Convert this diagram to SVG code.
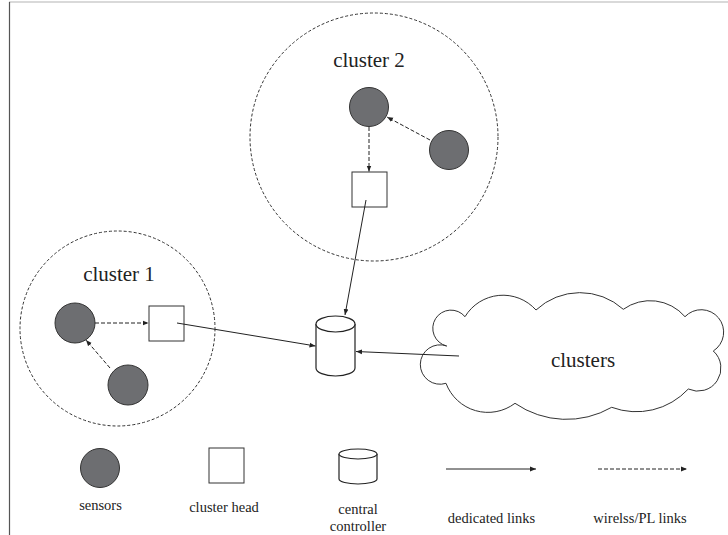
<svg xmlns="http://www.w3.org/2000/svg" width="728" height="535" viewBox="0 0 728 535">
<defs>
<marker id="ah" viewBox="0 0 10 10" refX="10" refY="5" markerWidth="6" markerHeight="6" markerUnits="userSpaceOnUse" orient="auto">
<path d="M0,1 L10,5 L0,9 Z" fill="#222"/>
</marker>
<style>
text{font-family:'Liberation Serif','Times New Roman',serif;fill:#222;text-anchor:middle}
.big{font-size:21px}
.sm{font-size:14.5px}
.cl{fill:none;stroke:#333;stroke-width:1;stroke-dasharray:3 2}
.sen{fill:#6d6e71;stroke:#333;stroke-width:1}
.head{fill:#fff;stroke:#333;stroke-width:1}
.cyl{fill:#fff;stroke:#222;stroke-width:1.2}
.solid{stroke:#222;stroke-width:1;fill:none;marker-end:url(#ah)}
.dash{stroke:#222;stroke-width:1;fill:none;stroke-dasharray:4 2;marker-end:url(#ah)}
</style>
</defs>
<rect width="728" height="535" fill="#fff"/>
<line x1="9" y1="2" x2="728" y2="2" stroke="#ccc" stroke-width="1.5"/>
<line x1="9.5" y1="2" x2="9.5" y2="535" stroke="#555" stroke-width="1.2"/>

<g id="cluster2">
<circle class="cl" cx="374" cy="137" r="124"/>
<text class="big" x="369" y="67">cluster 2</text>
</g>
<g id="sensor2a"><circle class="sen" cx="369" cy="107" r="19.5"/></g>
<g id="sensor2b"><circle class="sen" cx="449" cy="150" r="19.5"/></g>
<g id="head2"><rect class="head" x="352" y="172" width="35" height="35"/></g>

<g id="cluster1">
<circle class="cl" cx="117.5" cy="328.5" r="97.5"/>
<text class="big" x="119" y="281">cluster 1</text>
</g>
<g id="sensor1a"><circle class="sen" cx="75" cy="323" r="20"/></g>
<g id="sensor1b"><circle class="sen" cx="128" cy="385" r="20"/></g>
<g id="head1"><rect class="head" x="149" y="306" width="35" height="35"/></g>

<g id="controller">
<path class="cyl" d="M316,324 L316,368 A19.5,8 0 0 0 355,368 L355,324"/>
<ellipse class="cyl" cx="335.5" cy="324" rx="19.5" ry="8"/>
</g>

<g id="clusters">
<path fill="#fff" stroke="#333" stroke-width="1" d="M446.7,346 A18.2,18.2 0 1 1 465,316.7 A44.3,44.3 0 0 1 536,310 A64.5,64.5 0 0 1 623.3,309.3 A46,46 0 0 1 685,316.7 A22.4,22.4 0 1 1 713.3,351 A23,23 0 0 1 688.3,389 A70.7,70.7 0 0 1 611.7,407.3 A90.6,90.6 0 0 1 515,403.3 A44.8,44.8 0 0 1 446,383.3 A19.7,19.7 0 1 1 446.7,346 Z"/>
<text class="big" x="583" y="367">clusters</text>
</g>

<g id="connectors">
<line class="dash" x1="369" y1="127" x2="369" y2="171.5"/>
<line class="dash" x1="430" y1="140" x2="387" y2="117"/>
<line class="dash" x1="95" y1="323" x2="148.5" y2="323"/>
<line class="dash" x1="110" y1="368" x2="86" y2="340"/>
<line class="solid" x1="366" y1="200" x2="345" y2="315"/>
<line class="solid" x1="177" y1="323" x2="315.5" y2="346"/>
<line class="solid" x1="459" y1="356" x2="356" y2="351.5"/>
</g>

<g id="legend">
<g id="leg-sensor"><circle class="sen" cx="100" cy="468" r="19.5"/><text class="sm" x="100.5" y="510">sensors</text></g>
<g id="leg-head"><rect class="head" x="209" y="448" width="35" height="35"/><text class="sm" x="224" y="512">cluster head</text></g>
<g id="leg-ctrl">
<path class="cyl" d="M339,454 L339,479 A19,5 0 0 0 377,479 L377,454"/>
<ellipse class="cyl" cx="358" cy="454" rx="19" ry="5"/>
<text class="sm" x="358" y="514">central</text>
<text class="sm" x="358" y="531">controller</text>
</g>
<g id="leg-ded"><line class="solid" x1="446" y1="469" x2="536" y2="469"/><text class="sm" x="491.5" y="523">dedicated links</text></g>
<g id="leg-wl"><line class="dash" x1="598" y1="469" x2="687" y2="469"/><text class="sm" x="640" y="523">wirelss/PL links</text></g>
</g>
</svg>
